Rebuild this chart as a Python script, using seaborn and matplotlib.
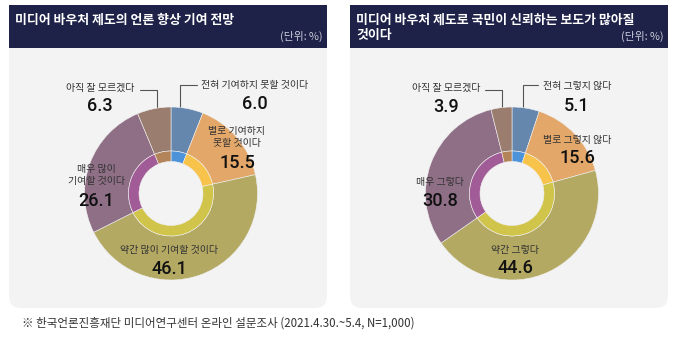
import matplotlib
matplotlib.use("Agg")
import matplotlib.pyplot as plt
from matplotlib.patches import FancyBboxPatch, Rectangle
import seaborn as sns

sns.set_theme(style="white")
plt.rcParams['font.family'] = ['Noto Sans CJK KR', 'DejaVu Sans']

# ---- data ----
labels_contrib = ['전혀 기여하지 못할 것이다', '별로 기여하지\n못할 것이다',
                  '약간 많이 기여할 것이다', '매우 많이\n기여할 것이다', '아직 잘 모르겠다']
values_contrib = [6.0, 15.5, 46.1, 26.1, 6.3]

labels_trust = ['전혀 그렇지 않다', '별로 그렇지 않다', '약간 그렇다',
                '매우 그렇다', '아직 잘 모르겠다']
values_trust = [5.1, 15.6, 44.6, 30.8, 3.9]

title_contrib = ['미디어 바우처 제도의 언론 향상 기여 전망']
title_trust = ['미디어 바우처 제도로 국민이 신뢰하는 보도가 많아질', '것이다']
unit_text = '(단위: %)'
source_text = '※ 한국언론진흥재단 미디어연구센터 온라인 설문조사 (2021.4.30.~5.4, N=1,000)'

# ---- styling ----
outer_colors = sns.color_palette(['#6587AE', '#E3A769', '#B3A963', '#8F6F86', '#9A7D6F'])
inner_colors = sns.color_palette(['#4C93DA', '#F8C34B', '#D0C44A', '#A15C97', '#B3845A'])
NAVY = '#1E2148'
PANEL = '#F3F3F4'

W, H = 680, 343
fig = plt.figure(figsize=(W / 100, H / 100), dpi=100, facecolor='white')


def pixel_axes(z):
    a = fig.add_axes([0, 0, 1, 1], zorder=z)
    a.set_xlim(0, W)
    a.set_ylim(H, 0)
    a.axis('off')
    a.patch.set_alpha(0)
    return a


# background panels below, annotations above the donuts
bg = pixel_axes(0)
fg = pixel_axes(5)

R_OUT, R_MID, R_HOLE = 86.5, 42.5, 32.0


def donut(cx, cy, values):
    ax = fig.add_axes([(cx - R_OUT) / W, 1 - (cy + R_OUT) / H,
                       2 * R_OUT / W, 2 * R_OUT / H], zorder=2)
    ax.patch.set_alpha(0)
    ax.pie(values, radius=1, startangle=90, counterclock=False,
           colors=outer_colors,
           wedgeprops=dict(width=1 - R_MID / R_OUT, linewidth=0.4, edgecolor='#f0f0f0'))
    ax.pie(values, radius=R_MID / R_OUT, startangle=90, counterclock=False,
           colors=inner_colors,
           wedgeprops=dict(width=(R_MID - R_HOLE) / R_OUT, linewidth=0.4, edgecolor='#f0f0f0'))
    ax.set_xlim(-1, 1)
    ax.set_ylim(-1, 1)
    ax.axis('off')
    return ax


def panel(x0, title_lines):
    bg.add_patch(FancyBboxPatch((x0, 30), 318, 278,
                                boxstyle="round,pad=0,rounding_size=12",
                                fc=PANEL, ec='none', zorder=1))
    bg.add_patch(Rectangle((x0, 5), 318, 43, fc=NAVY, ec='none', zorder=2))
    for i, line in enumerate(title_lines):
        fg.text(x0 + 6, 20 + 15 * i, line, color='white', fontsize=9.3,
                fontweight='bold', va='center', ha='left', zorder=3)
    fg.text(x0 + 314, 36, unit_text, color='#C9CAD8', fontsize=7.8,
            va='center', ha='right', zorder=3)


def labels(labels_, values, layout):
    for lab, val, (x, yl, yv) in zip(labels_, values, layout):
        fg.text(x, yl, lab, fontsize=7.2, color='#333333', ha='center', va='center',
                linespacing=1.25, zorder=3)
        fg.text(x, yv, f'{val:.1f}', fontsize=13, color='#111111', ha='center',
                va='center', family=['Roboto'], fontweight='medium', zorder=3)


# left panel
panel(9, title_contrib)
donut(171, 193.5, values_contrib)
labels(labels_contrib, values_contrib,
       [(255, 85, 104), (237, 137, 163), (169, 250, 269), (96, 175, 201), (100, 88, 106)])
bg.plot([180, 180, 197], [108, 85, 85], color='#555555', lw=0.8, zorder=3)
bg.plot([157, 157, 140], [108, 90, 90], color='#555555', lw=0.8, zorder=3)

# right panel
panel(350, title_trust)
donut(512, 193.5, values_trust)
labels(labels_trust, values_trust,
       [(577, 86, 106), (577, 140, 158), (515, 250, 268), (440, 182, 201), (446, 88, 107)])
bg.plot([523, 523, 538], [108, 85, 85], color='#555555', lw=0.8, zorder=3)
bg.plot([502, 502, 485], [108, 90, 90], color='#555555', lw=0.8, zorder=3)

# source note
fg.text(22, 323, source_text, fontsize=8.3, color='#333333', ha='left', va='center', zorder=3)

fig.savefig('out.png', dpi=100, facecolor='white')
